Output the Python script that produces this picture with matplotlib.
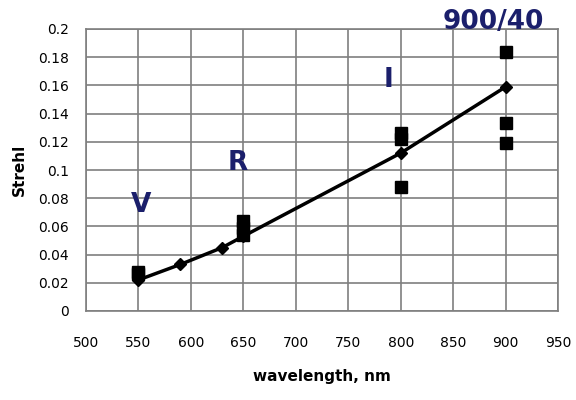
import matplotlib
matplotlib.use("Agg")
import matplotlib.pyplot as plt

# Line (diamonds)
line_wl = [550, 590, 630, 650, 800, 900]
line_strehl = [0.022, 0.033, 0.045, 0.053, 0.112, 0.159]
# Measured points (squares)
meas_wl = [550, 550, 650, 650, 650, 800, 800, 800, 900, 900, 900]
meas_strehl = [0.028, 0.026, 0.064, 0.059, 0.054, 0.126, 0.122, 0.088, 0.184, 0.133, 0.119]
# Band labels
band_names = ["V", "R", "I", "900/40"]
band_x = [553, 645, 788, 888]
band_y = [0.075, 0.105, 0.164, 0.205]

xticks = [500, 550, 600, 650, 700, 750, 800, 850, 900, 950]
yticks = [0, 0.02, 0.04, 0.06, 0.08, 0.1, 0.12, 0.14, 0.16, 0.18, 0.2]
ytick_labels = ["0", "0.02", "0.04", "0.06", "0.08", "0.1", "0.12", "0.14", "0.16", "0.18", "0.2"]

fig = plt.figure(figsize=(5.76, 4.0), dpi=100)
ax = fig.add_axes([0.149, 0.2225, 0.82, 0.705])

ax.plot(line_wl, line_strehl, color="black", lw=2.5, marker="D", ms=6, zorder=3)
ax.plot(meas_wl, meas_strehl, ls="none", color="black", marker="s", ms=9, zorder=4)

for n, x, y in zip(band_names, band_x, band_y):
    ax.text(x, y, n, color="#1b1f6b", fontsize=19, fontweight="bold",
            ha="center", va="center", clip_on=False, zorder=5)

ax.set_xlim(500, 950)
ax.set_ylim(0, 0.2)
ax.set_xticks(xticks)
ax.set_yticks(yticks)
ax.set_yticklabels(ytick_labels)
ax.grid(True, color="#7f7f7f", lw=1.2)
ax.set_axisbelow(True)
ax.tick_params(length=0, labelsize=10, pad=12)
ax.tick_params(axis="x", pad=18)
for s in ax.spines.values():
    s.set_color("#7f7f7f")
    s.set_linewidth(1.2)

ax.set_xlabel("wavelength, nm", fontsize=11, fontweight="bold", labelpad=14)
ax.set_ylabel("Strehl", fontsize=11, fontweight="bold", labelpad=8)

fig.savefig("out.png", dpi=100)
